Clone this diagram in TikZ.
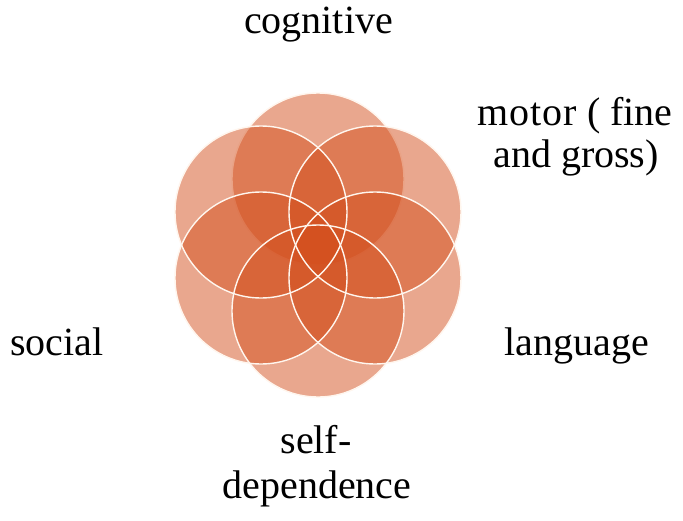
\documentclass[tikz,border=0pt]{standalone}
\usepackage{fontspec}
\setmainfont{Liberation Serif}
\definecolor{petal}{HTML}{D4501E}
\definecolor{rim}{HTML}{FFF6EE}
\begin{document}
\begin{tikzpicture}[x=1pt,y=-1pt,
  petalfill/.style={fill=petal,fill opacity=0.5},
  petalrim/.style={draw=rim,line width=1.4pt},
  lbl/.style={anchor=base,inner sep=0pt,font=\fontsize{40}{44}\selectfont}]
\useasboundingbox (0,0) rectangle (683,520);
\fill[white] (0,0) rectangle (683,520);
\def\rr{86}
% top circle: filled and outlined first
\path[petalfill,petalrim] (318,179) circle[radius=\rr];
% remaining circles: fills
\path[petalfill] (375,212) circle[radius=\rr];
\path[petalfill] (375,278) circle[radius=\rr];
\path[petalfill] (318,311) circle[radius=\rr];
\path[petalfill] (261,278) circle[radius=\rr];
\path[petalfill] (261,212) circle[radius=\rr];
% outlines on top
\draw[petalrim] (375,212) circle[radius=\rr];
\draw[petalrim] (375,278) circle[radius=\rr];
\draw[petalrim] (318,311) circle[radius=\rr];
\draw[petalrim] (261,278) circle[radius=\rr];
\draw[petalrim] (261,212) circle[radius=\rr];
\node[lbl] (cog) at (318.5,33) {cognitive};
\node[lbl] (mot1) at (575,125) {m\kern1pt o\kern1pt t\kern1pt o\kern1pt r ( fine};
\node[lbl] (mot2) at (576,167) {and gross)};
\node[lbl] (lang) at (577,355) {language};
\node[lbl] (soc) at (57,355) {social};
\node[lbl] (self1) at (316,453) {self-};
\node[lbl] (self2) at (317,498) {dependence};
\end{tikzpicture}
\end{document}
